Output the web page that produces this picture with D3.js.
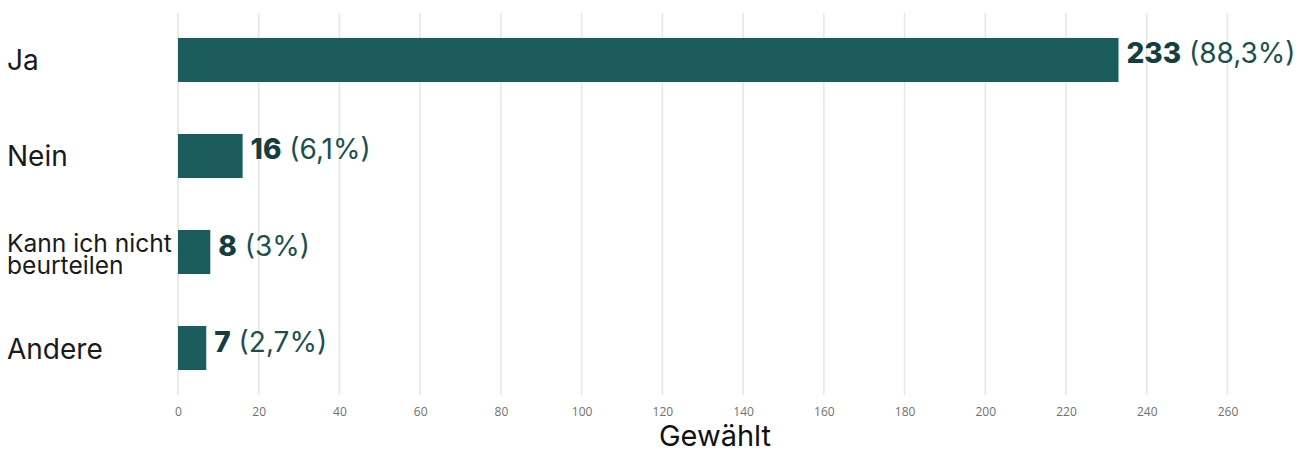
<!DOCTYPE html>
<html>
<head>
<meta charset="utf-8">
<script src="https://cdn.jsdelivr.net/npm/d3@7"></script>
<style>
  body { margin: 0; background: #fff; }
  svg { display: block; }
</style>
</head>
<body>
<svg id="chart" width="1310" height="452"></svg>
<script>
// data
const categories = ["Ja", "Nein", "Kann ich nicht beurteilen", "Andere"];
const labelLines = [["Ja"], ["Nein"], ["Kann ich nicht", "beurteilen"], ["Andere"]];
const counts = [233, 16, 8, 7];
const percents = ["88,3%", "6,1%", "3%", "2,7%"];
const xTicks = [0, 20, 40, 60, 80, 100, 120, 140, 160, 180, 200, 220, 240, 260];

const data = categories.map((c, i) => ({
  category: c,
  lines: labelLines[i],
  count: counts[i],
  pct: percents[i]
}));

const barColor = "#1b5c5c";
const svg = d3.select("#chart");

const x = d3.scaleLinear().domain([0, 260]).range([178, 1227.5]);

const y = d3
  .scaleBand()
  .domain(categories)
  .range([13, 395])
  .paddingInner(0.5417)
  .paddingOuter(0.26);

// grid lines
svg
  .append("g")
  .attr("class", "grid")
  .selectAll("line")
  .data(xTicks)
  .enter()
  .append("line")
  .attr("x1", (d) => x(d))
  .attr("x2", (d) => x(d))
  .attr("y1", 13)
  .attr("y2", 395)
  .attr("stroke", "#e6e6e6")
  .attr("stroke-width", 1.5);

// x axis tick labels
const xAxis = svg
  .append("g")
  .attr("class", "x-axis")
  .attr("transform", "translate(0,402)")
  .call(d3.axisBottom(x).tickValues(xTicks).tickSize(0).tickPadding(5));
xAxis.select(".domain").remove();
xAxis
  .selectAll("text")
  .style("font-family", "'Open Sans', sans-serif")
  .style("font-size", "12px")
  .style("fill", "#707070");

// axis title
svg
  .append("text")
  .attr("x", 715)
  .attr("y", 446)
  .attr("text-anchor", "middle")
  .style("font-family", "Inter, sans-serif")
  .style("font-size", "29px")
  .style("fill", "#111")
  .text("Gewählt");

// bars
svg
  .selectAll(".bar")
  .data(data)
  .enter()
  .append("rect")
  .attr("class", "bar")
  .attr("x", x(0))
  .attr("y", (d) => y(d.category))
  .attr("width", (d) => x(d.count) - x(0))
  .attr("height", y.bandwidth())
  .attr("fill", barColor);

// category labels
const cat = svg
  .selectAll(".cat-label")
  .data(data)
  .enter()
  .append("text")
  .attr("class", "cat-label")
  .style("font-family", "Inter, sans-serif")
  .style("fill", "#1a1a1a")
  .style("font-size", (d) => (d.lines.length > 1 ? "24.6px" : "28px"));

cat.each(function (d) {
  const t = d3.select(this);
  const cy = y(d.category) + y.bandwidth() / 2;
  if (d.lines.length > 1) {
    d.lines.forEach((line, i) => {
      t.append("tspan")
        .attr("x", 7)
        .attr("y", cy + i * 22)
        .text(line);
    });
  } else {
    t.append("tspan").attr("x", 7).attr("y", cy + 10.5).text(d.lines[0]);
  }
});

// value labels
const val = svg
  .selectAll(".val-label")
  .data(data)
  .enter()
  .append("text")
  .attr("class", "val-label")
  .attr("x", (d) => x(d.count) + 8)
  .attr("y", (d) => y(d.category) + y.bandwidth() / 2 + 3.5)
  .style("font-family", "Inter, sans-serif")
  .style("font-size", "28px");

val
  .append("tspan")
  .style("font-weight", "800")
  .style("fill", "#163e3e")
  .text((d) => d.count);

val
  .append("tspan")
  .style("fill", "#1d4f4f")
  .text((d) => " (" + d.pct + ")");
</script>
</body>
</html>
